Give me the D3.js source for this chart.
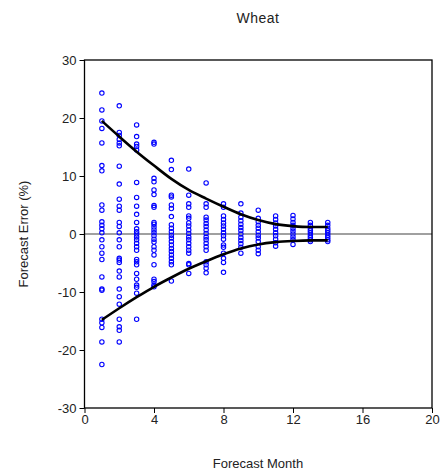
<!DOCTYPE html>
<html lang="en">
<head>
<meta charset="UTF-8">
<title>Wheat</title>
<script src="https://cdn.jsdelivr.net/npm/d3@7"></script>
<style>
    body { margin: 0; background: #fff; }
    text { font-family: "Liberation Sans", Arial, sans-serif; fill: #222; }
    g.pts circle { fill: none; stroke: #0000ff; stroke-width: 1.1; }
    path.band { fill: none; stroke: #000; stroke-width: 2.6; }
</style>
</head>
<body>
<script>
    var width = 443, height = 476;
    var margin = {left: 84.5, right: 11, top: 60, bottom: 68};

    // forecast errors (%) by forecast month
    var months = [1, 2, 3, 4, 5, 6, 7, 8, 9, 10, 11, 12, 13, 14];
    var errors = [
        [24.3, 21.4, 19.5, 18.2, 15.7, 11.8, 10.9, 5.0, 4.1, 2.1, 1.5, 0.9, 0.2, -1.0, -2.2, -3.3, -4.4, -7.4, -9.5, -9.7, -14.7, -15.3, -16.1, -18.6, -22.5],
        [22.1, 17.5, 17.0, 16.3, 15.7, 15.2, 11.7, 8.6, 6.0, 4.8, 4.1, 2.0, 1.3, 0.2, -1.0, -2.2, -4.2, -4.5, -4.9, -6.4, -7.4, -9.5, -10.8, -12.1, -14.7, -16.0, -16.6, -18.6],
        [18.8, 16.8, 15.5, 15.1, 14.5, 8.9, 6.3, 4.8, 3.4, 2.0, 0.9, 0.4, 0.0, -0.5, -1.0, -1.6, -2.2, -2.8, -4.4, -4.8, -5.3, -6.8, -7.8, -8.8, -9.2, -10.2, -14.7],
        [15.8, 15.5, 9.6, 9.0, 7.6, 6.8, 4.9, 4.6, 2.0, 1.7, 1.2, 0.7, 0.2, -0.3, -0.9, -1.4, -2.2, -2.8, -3.6, -5.3, -7.8, -8.2, -8.8, -9.1],
        [12.7, 11.1, 6.7, 6.4, 5.0, 4.4, 3.0, 1.6, 1.0, 0.4, -0.2, -0.7, -1.3, -1.9, -2.5, -3.0, -3.6, -4.2, -4.8, -5.3, -8.1],
        [11.2, 6.7, 5.2, 4.6, 3.1, 2.7, 1.9, 1.4, 0.7, 0.1, -0.5, -1.0, -1.6, -2.2, -2.8, -3.3, -5.1, -5.3, -6.8],
        [8.8, 5.2, 4.6, 2.9, 2.4, 1.8, 1.3, 0.7, 0.1, -0.5, -1.0, -1.6, -2.2, -2.8, -4.8, -5.3, -5.9, -6.7],
        [5.2, 4.6, 3.1, 2.5, 1.9, 1.4, 0.8, 0.2, -0.3, -0.9, -1.9, -2.3, -3.3, -4.2, -4.9, -6.6],
        [5.2, 3.6, 2.9, 2.3, 1.7, 1.1, 0.6, 0.0, -0.6, -1.1, -1.7, -2.3, -3.3],
        [4.1, 2.7, 2.1, 1.5, 1.0, 0.4, -0.2, -0.7, -1.3, -2.2, -2.8, -3.4],
        [3.1, 2.5, 1.9, 1.4, 0.8, 0.2, -0.3, -0.9, -1.5, -2.1],
        [3.2, 2.6, 2.0, 1.5, 1.0, 0.5, 0.0, -0.5, -1.0, -1.8],
        [2.0, 1.5, 1.0, 0.6, 0.2, -0.2, -0.6, -1.0, -1.3],
        [2.0, 1.5, 1.0, 0.6, 0.2, -0.2, -0.6, -1.0, -1.3]
    ];
    var upperBand = [19.5, 16.8, 14.2, 11.8, 9.5, 7.6, 6.1, 4.7, 3.4, 2.4, 1.7, 1.35, 1.2, 1.2];
    var lowerBand = [-14.8, -12.8, -10.9, -9.1, -7.5, -6.0, -4.7, -3.5, -2.5, -1.8, -1.4, -1.2, -1.1, -1.1];
    var xTicks = [0, 4, 8, 12, 16, 20];
    var yTicks = [-30, -20, -10, 0, 10, 20, 30];

    var x = d3.scaleLinear().domain([0, 20]).range([margin.left, width - margin.right]);
    var y = d3.scaleLinear().domain([-30, 30]).range([height - margin.bottom, margin.top]);

    var svg = d3.select("body").append("svg").attr("width", width).attr("height", height);

    // zero line
    svg.append("line")
        .attr("x1", x(0)).attr("x2", x(20))
        .attr("y1", y(0)).attr("y2", y(0))
        .attr("stroke", "#808080").attr("stroke-width", 1.5);

    var pts = [];
    months.forEach(function(m, i){
        errors[i].forEach(function(e){ pts.push([m, e]); });
    });

    svg.append("g").attr("class", "pts")
        .selectAll("circle")
        .data(pts)
        .enter().append("circle")
            .attr("cx", function(d){ return x(d[0]); })
            .attr("cy", function(d){ return y(d[1]); })
            .attr("r", 2.2);

    var line = d3.line()
        .x(function(d, i){ return x(months[i]); })
        .y(function(d){ return y(d); })
        .curve(d3.curveMonotoneX);

    svg.append("path").attr("class", "band").attr("d", line(upperBand));
    svg.append("path").attr("class", "band").attr("d", line(lowerBand));

    // frame
    svg.append("rect")
        .attr("x", x(0)).attr("y", y(30))
        .attr("width", x(20) - x(0)).attr("height", y(-30) - y(30))
        .attr("fill", "none").attr("stroke", "#000").attr("stroke-width", 1.3);

    var fmt = function(d){ return String(d); };   // plain hyphen for negatives
    var xAxis = svg.append("g")
        .attr("transform", "translate(0," + y(-30) + ")")
        .call(d3.axisBottom(x).tickValues(xTicks).tickFormat(fmt).tickSize(5).tickPadding(2));
    var yAxis = svg.append("g")
        .attr("transform", "translate(" + x(0) + ",0)")
        .call(d3.axisLeft(y).tickValues(yTicks).tickFormat(fmt).tickSize(5).tickPadding(3));

    [xAxis, yAxis].forEach(function(g){
        g.select(".domain").remove();
        g.selectAll("line").attr("stroke", "#000");
        g.selectAll("text").style("font-size", "13px").style("font-family", "Liberation Sans, Arial, sans-serif").attr("fill", "#222");
    });

    svg.append("text")
        .attr("x", 258).attr("y", 23)
        .attr("text-anchor", "middle")
        .style("font-size", "14px")
        .style("letter-spacing", "0.5px")
        .text("Wheat");

    svg.append("text")
        .attr("x", 258).attr("y", 468)
        .attr("text-anchor", "middle")
        .style("font-size", "13px")
        .text("Forecast Month");

    svg.append("text")
        .attr("transform", "translate(28," + y(0) + ") rotate(-90)")
        .attr("text-anchor", "middle")
        .style("font-size", "13px")
        .text("Forecast Error (%)");
</script>
</body>
</html>
